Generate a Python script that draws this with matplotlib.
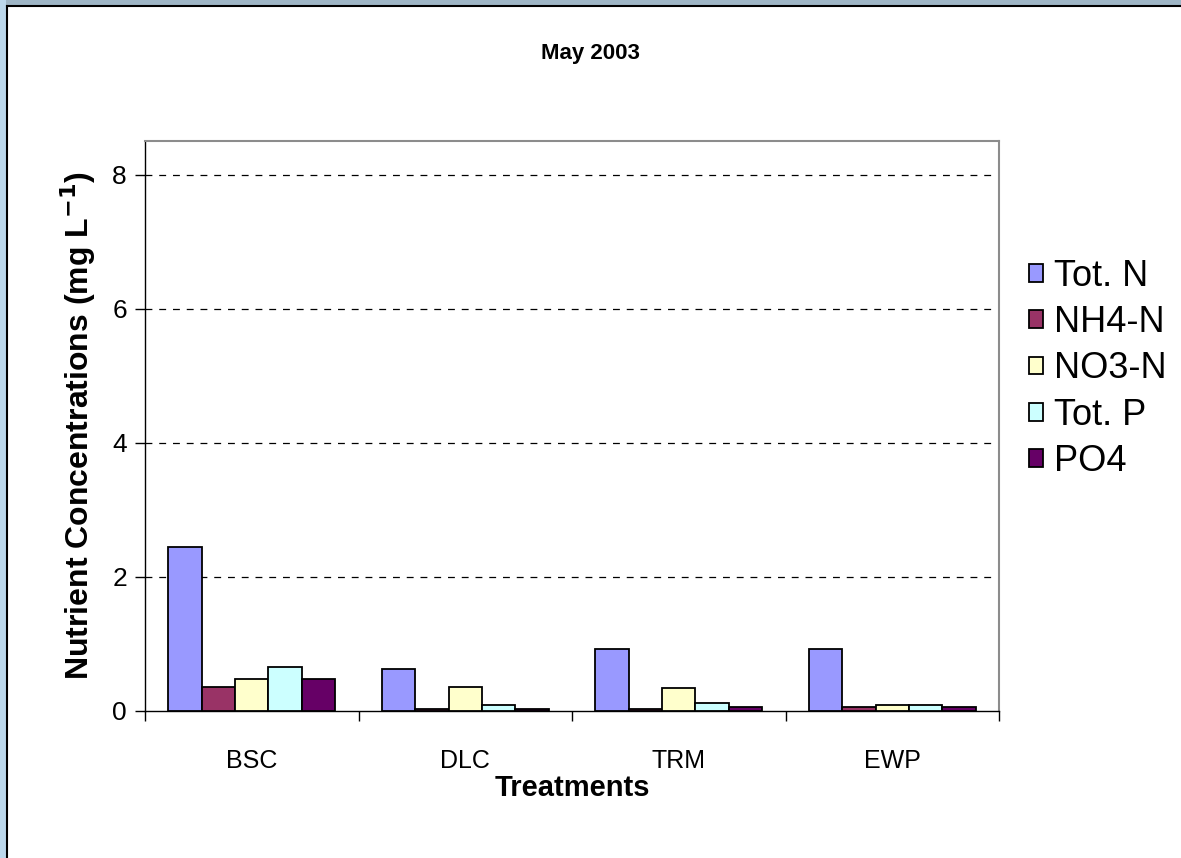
import numpy as np
import matplotlib
matplotlib.use("Agg")
import matplotlib.pyplot as plt
import matplotlib.patches as patches

plt.rcParams['font.family'] = ['Liberation Sans', 'DejaVu Sans']

treatments = ["BSC", "DLC", "TRM", "EWP"]
series_names = ["Tot. N", "NH4-N", "NO3-N", "Tot. P", "PO4"]
tot_n = [2.45, 0.62, 0.92, 0.92]
nh4_n = [0.36, 0.03, 0.03, 0.06]
no3_n = [0.47, 0.36, 0.35, 0.09]
tot_p = [0.66, 0.09, 0.12, 0.09]
po4 = [0.47, 0.03, 0.06, 0.06]
colors = ["#9999FF", "#993366", "#FFFFCC", "#CCFFFF", "#660066"]

fig = plt.figure(figsize=(11.81, 8.58), dpi=100)
fig.patch.set_facecolor("white")

# blue window frame on top and left, with a dark inner edge
fig.patches.append(patches.Rectangle((0, 1 - 5 / 858), 1, 5 / 858, transform=fig.transFigure,
                                     facecolor="#9fb6c6", edgecolor="none", zorder=0))
fig.patches.append(patches.Rectangle((0, 0), 6 / 1181, 1, transform=fig.transFigure,
                                     facecolor="#bcd8ec", edgecolor="none", zorder=0))
fig.add_artist(plt.Line2D([6.5 / 1181, 1], [1 - 5.5 / 858, 1 - 5.5 / 858], transform=fig.transFigure,
                          color="black", lw=1.5))
fig.add_artist(plt.Line2D([6.5 / 1181, 6.5 / 1181], [0, 1 - 5.5 / 858], transform=fig.transFigure,
                          color="black", lw=1.5))

ax = fig.add_axes([145 / 1181, 1 - 711 / 858, (999 - 145) / 1181, (711 - 141) / 858])

data = [tot_n, nh4_n, no3_n, tot_p, po4]
x = np.arange(len(treatments))
width = 0.156
offsets = (np.arange(5) - 2) * width
for vals, name, col, off in zip(data, series_names, colors, offsets):
    ax.bar(x + off, vals, width, color=col, edgecolor="black", linewidth=1.3,
           label=name, zorder=3)

ax.set_xlim(-0.5, 3.5)
ax.set_ylim(0, 8.5)
ax.set_yticks([0, 2, 4, 6, 8])
ax.set_xticks(x)
ax.set_xticklabels(treatments)
ax.set_xticks(np.arange(-0.5, 4.0, 1.0), minor=True)
ax.tick_params(axis="x", which="major", length=0, labelsize=18, pad=27)
ax.tick_params(axis="x", which="minor", length=7, width=1, direction="out")
ax.tick_params(axis="y", length=7, width=1, direction="out", labelsize=19, pad=6)

for yv in [2, 4, 6, 8]:
    ax.axhline(yv, color="black", lw=0.9, ls=(0, (5.5, 5.5)), zorder=1)

for s in ["top", "right"]:
    ax.spines[s].set_color("#8c8c8c")
    ax.spines[s].set_linewidth(1.5)
for s in ["left", "bottom"]:
    ax.spines[s].set_color("black")
    ax.spines[s].set_linewidth(1)

ax.set_xlabel("Treatments", fontsize=21, fontweight="bold", labelpad=1)
ax.set_ylabel("Nutrient Concentrations (mg L$^{\\mathbf{-1}}$)", fontsize=23,
              fontweight="bold", labelpad=10)
fig.text(590 / 1181, 1 - 53 / 858, "May 2003", fontsize=16, fontweight="bold",
         ha="center", va="center")

leg = ax.legend(loc="center left", bbox_to_anchor=(1.018, 0.60), frameon=False,
                fontsize=26, handlelength=0.38, handleheight=0.38, handletextpad=0.32,
                labelspacing=0.31, borderaxespad=0)

fig.savefig("out.png", dpi=100)
